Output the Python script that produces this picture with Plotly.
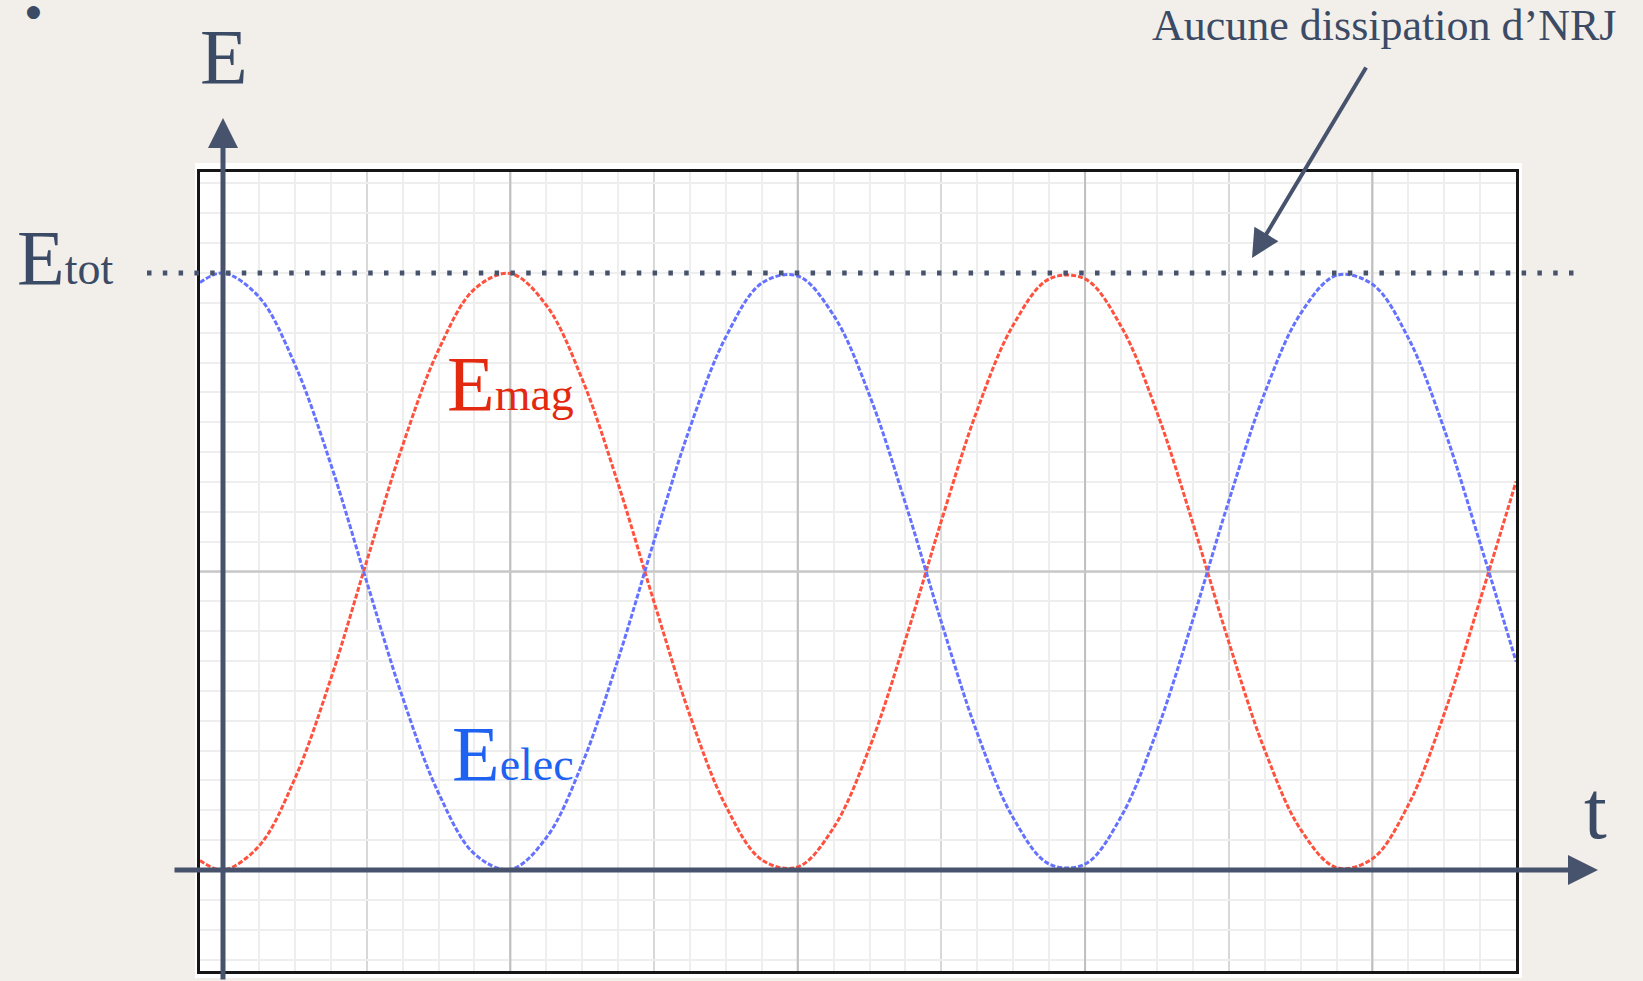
import plotly.graph_objects as go

W, H = 1643, 981

# ---------------- data ----------------
# time in grid units (one light grid column = 1), energy as fraction of E_tot
t = [-0.64, 0, 1, 2, 3, 4, 5, 6, 7, 8, 9, 10, 11, 12, 13, 14, 15, 16, 17, 18,
     19, 20, 21, 22, 23, 24, 25, 26, 27, 28, 29, 30, 31, 32, 33, 34, 35, 36]
e_elec = [0.984, 1.000, 0.960, 0.847, 0.680, 0.483, 0.289, 0.129, 0.027, 0.001,
          0.054, 0.178, 0.353, 0.551, 0.741, 0.893, 0.983, 0.995, 0.929, 0.795,
          0.614, 0.415, 0.229, 0.087, 0.010, 0.010, 0.089, 0.233, 0.419, 0.618,
          0.799, 0.932, 0.996, 0.981, 0.891, 0.738, 0.547, 0.349]
e_mag = [0.016, 0.000, 0.040, 0.153, 0.320, 0.517, 0.711, 0.871, 0.973, 0.999,
         0.946, 0.822, 0.647, 0.449, 0.259, 0.107, 0.017, 0.005, 0.071, 0.205,
         0.386, 0.585, 0.771, 0.913, 0.990, 0.990, 0.911, 0.767, 0.581, 0.382,
         0.201, 0.068, 0.004, 0.019, 0.109, 0.262, 0.453, 0.651]
e_tot = 1.0
dark_grid_t = [8, 16, 24, 32]
dark_grid_e = [0.5]

# ---------------- layout geometry (pixels) ----------------
X0, UX = 223.0, 35.92     # pixel of t=0, pixels per t unit
Y0, UY = 870.0, 597.0     # pixel of E=0, pixels per E_tot
def fx(p): return (p - X0) / UX
def fy(p): return (Y0 - p) / UY
def px(p): return p / W
def py(p): return 1 - p / H

PL, PR, PT, PB = 200, 1516, 172, 971   # panel border

INK = "#3b4a65"
AX = "#47536c"
SERIF = "Liberation Serif"

fig = go.Figure()

fig.add_trace(go.Scatter(x=t, y=e_mag, mode="lines",
                         line=dict(color="rgb(255,82,62)", width=3, dash="5px,2px", shape="spline"),
                         hoverinfo="skip", showlegend=False))
fig.add_trace(go.Scatter(x=t, y=e_elec, mode="lines",
                         line=dict(color="rgb(100,114,255)", width=3, dash="5px,2px", shape="spline"),
                         hoverinfo="skip", showlegend=False))
# E_tot level (spans beyond the panel: drawn on the full-figure axes)
fig.add_trace(go.Scatter(x=[fx(147), fx(1574)], y=[e_tot, e_tot], mode="lines",
                         xaxis="x2", yaxis="y2",
                         line=dict(color=AX, width=5, dash="4.5px,11.3px"),
                         hoverinfo="skip", showlegend=False))

shapes = [
    dict(type="rect", xref="paper", yref="paper", layer="below",
         x0=px(195), x1=px(1522), y0=py(978), y1=py(163),
         fillcolor="white", line=dict(width=0)),
]
for v in dark_grid_t:
    shapes.append(dict(type="line", xref="x", yref="y", layer="between",
                       x0=v, x1=v, y0=fy(PB), y1=fy(PT),
                       line=dict(color="#bfbfbf", width=2)))
for v in dark_grid_e:
    shapes.append(dict(type="line", xref="x", yref="y", layer="between",
                       x0=fx(PL), x1=fx(PR), y0=v, y1=v,
                       line=dict(color="#c8c8c8", width=2.5)))

def label(text, x, top, size, color, xanchor="left", family=SERIF):
    return dict(text=text, x=px(x), y=py(top), xref="paper", yref="paper",
                xanchor=xanchor, yanchor="top", showarrow=False,
                borderpad=0, borderwidth=0,
                font=dict(family=family, size=size, color=color))

BIG, SUB = 78, 46
asc = 0.891
annotations = [
    label("●", 33, 0.5, 17, INK, xanchor="center", family="DejaVu Sans"),
    label("E", 224, 82 - asc * BIG, BIG, INK, xanchor="center"),
    label("E<span style='font-size:%dpx'>tot</span>" % SUB, 17, 283 - asc * BIG, BIG, INK),
    label("Aucune dissipation d’NRJ", 1152, 40 - asc * 44, 44, INK),
    label("E<span style='font-size:%dpx'>mag</span>" % SUB, 447, 409 - asc * BIG, BIG, "#e3290f"),
    label("E<span style='font-size:%dpx'>elec</span>" % SUB, 452, 779 - asc * BIG, BIG, "#1e62f2"),
    label("t", 1584, 838 - asc * 82, 82, INK),
    # axes arrows
    dict(text="", x=px(223), y=py(118), xref="paper", yref="paper",
         ax=0, ay=981 - 118, showarrow=True, arrowhead=2, arrowsize=1.2,
         arrowwidth=5, arrowcolor=AX),
    dict(text="", x=px(1598), y=py(870), xref="paper", yref="paper",
         ax=173 - 1598, ay=0, showarrow=True, arrowhead=2, arrowsize=1.2,
         arrowwidth=5, arrowcolor=AX),
    dict(text="", x=px(1252), y=py(258), xref="paper", yref="paper",
         ax=1367 - 1252, ay=66 - 258, showarrow=True, arrowhead=2, arrowsize=1.4,
         arrowwidth=4, arrowcolor=AX),
]

fig.update_layout(
    width=W, height=H,
    margin=dict(l=0, r=0, t=0, b=0),
    paper_bgcolor="#f2efea",
    plot_bgcolor="rgba(0,0,0,0)",
    showlegend=False,
    shapes=shapes,
    annotations=annotations,
    xaxis=dict(domain=[PL / W, PR / W], range=[fx(PL), fx(PR)],
               tick0=0, dtick=4, showgrid=True, gridcolor="#d8d8d8", gridwidth=2,
               minor=dict(tick0=0, dtick=1, showgrid=True, gridcolor="#eeeeee", gridwidth=2),
               showline=True, linecolor="#161616", linewidth=3, mirror=True,
               zeroline=False, showticklabels=False, ticks="", fixedrange=True),
    yaxis=dict(domain=[1 - PB / H, 1 - PT / H], range=[fy(PB), fy(PT)],
               tick0=0, dtick=0.05, showgrid=True, gridcolor="#eeeeee", gridwidth=2,
               showline=True, linecolor="#161616", linewidth=3, mirror=True,
               zeroline=False, showticklabels=False, ticks="", fixedrange=True),
    xaxis2=dict(domain=[0, 1], range=[fx(0), fx(W)], anchor="y2", visible=False, fixedrange=True),
    yaxis2=dict(domain=[0, 1], range=[fy(H), fy(0)], anchor="x2", visible=False, fixedrange=True),
)

fig.write_html("out.html", config={"displayModeBar": False},
               post_script="document.body.style.margin='0';")
